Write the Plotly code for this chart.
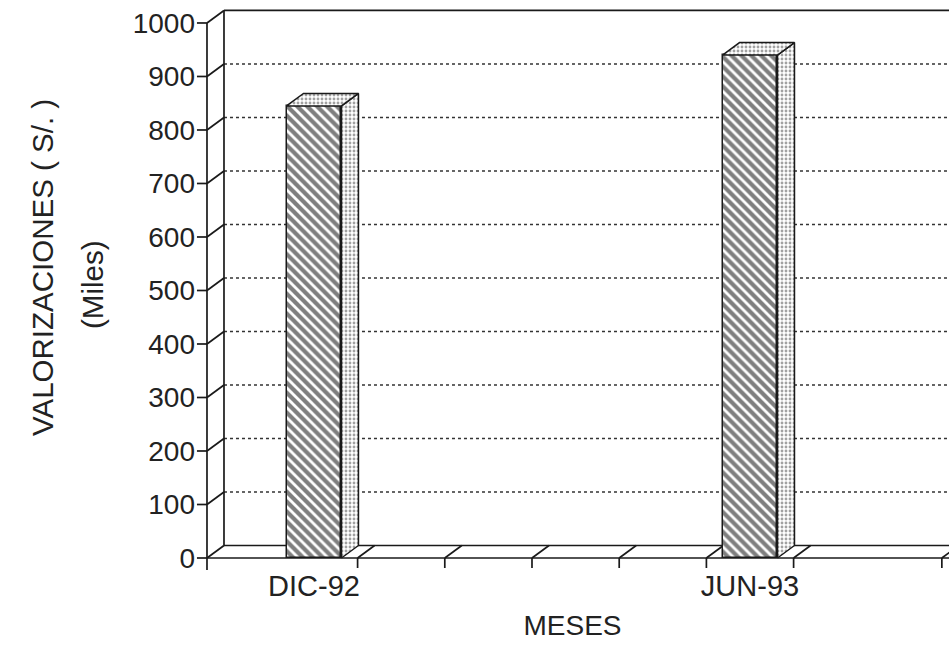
import plotly.graph_objects as go

# --- data ---------------------------------------------------------------
meses = ["DIC-92", "JUN-93"]
posiciones = [0, 5]            # category slot of each month
valores = [845, 940]           # valorizaciones, miles de S/.
y_ticks = list(range(0, 1001, 100))
limites = [0.5, 1.5, 2.5, 3.5, 4.5, 5.5, 7.2]   # floor divisions between slots

# --- geometry (data units) ----------------------------------------------
X_MIN, X_MAX = -1.353, 7.282
Y_MIN, Y_MAX = -24.3, 1033.6
X_EJE = -1.227          # front vertical axis
DX, DY = 0.195, 23.4    # depth offset of the back wall
ANCHO = 0.63            # bar width
TICK_X = 0.115          # length of y tick marks
TICK_Y = 18.7           # length of floor tick marks

NEGRO = "#1a1a1a"
LW = 1.7

fig = go.Figure()

# front faces of the bars: diagonal hatching
fig.add_trace(go.Bar(
    x=posiciones, y=valores, width=ANCHO,
    marker=dict(
        color="white",
        line=dict(color=NEGRO, width=1.5),
        pattern=dict(shape="\\", fgcolor="#000", bgcolor="white",
                     size=7, solidity=0.6),
    ),
    showlegend=False, hoverinfo="skip",
))

# top and side faces: stippled
punteado = dict(shape=".", fgcolor="#444", bgcolor="white", size=4, solidity=0.4)
for x, v in zip(posiciones, valores):
    x0, x1 = x - ANCHO / 2, x + ANCHO / 2
    # side face
    fig.add_trace(go.Scatter(
        x=[x1, x1 + DX, x1 + DX, x1, x1],
        y=[0, DY, v + DY, v, 0],
        mode="lines", fill="toself", fillcolor="white", fillpattern=punteado,
        line=dict(color=NEGRO, width=1.5), showlegend=False, hoverinfo="skip",
    ))
    # top face
    fig.add_trace(go.Scatter(
        x=[x0, x1, x1 + DX, x0 + DX, x0],
        y=[v, v, v + DY, v + DY, v],
        mode="lines", fill="toself", fillcolor="white", fillpattern=punteado,
        line=dict(color=NEGRO, width=1.5), showlegend=False, hoverinfo="skip",
    ))

shapes = []


def linea(x0, y0, x1, y1, dash="solid", width=LW, color=NEGRO):
    shapes.append(dict(type="line", xref="x", yref="y", x0=x0, y0=y0, x1=x1, y1=y1,
                       line=dict(color=color, width=width, dash=dash), layer="below"))


# dotted gridlines on the back wall
for v in y_ticks[1:-1]:
    linea(X_EJE + DX, v + DY, X_MAX, v + DY, dash="dot", width=1.4, color="#333")

# back wall edges
linea(X_EJE + DX, DY, X_EJE + DX, y_ticks[-1] + DY)
linea(X_EJE + DX, y_ticks[-1] + DY, X_MAX, y_ticks[-1] + DY)

# front axis with ticks and connectors to the wall
linea(X_EJE, -TICK_Y * 1.2, X_EJE, y_ticks[-1])
for v in y_ticks:
    linea(X_EJE - TICK_X, v, X_EJE, v)
    linea(X_EJE, v, X_EJE + DX, v + DY)

# floor
linea(X_EJE, 0, X_MAX, 0)
linea(X_EJE + DX, DY, X_MAX, DY)
for b in limites:
    linea(b, 0, b + DX, DY)
    linea(b, 0, b, -TICK_Y)

FUENTE = "Liberation Sans, Arial, sans-serif"

fig.update_layout(
    width=949, height=645,
    margin=dict(l=196, r=0, t=5, b=74),
    paper_bgcolor="white", plot_bgcolor="white",
    shapes=shapes,
    bargap=0,
    font=dict(family=FUENTE, color="#222", size=28),
    xaxis=dict(
        range=[X_MIN, X_MAX], showgrid=False, zeroline=False, showline=False,
        tickmode="array", tickvals=posiciones, ticktext=meses, ticks="",
        tickfont=dict(size=29), ticklabelstandoff=-5,
        title=dict(text="MESES", font=dict(size=28), standoff=14),
    ),
    yaxis=dict(
        range=[Y_MIN, Y_MAX], showgrid=False, zeroline=False, showline=False,
        tickmode="array", tickvals=y_ticks, ticks="",
        tickfont=dict(size=28),
    ),
    annotations=[
        dict(text="VALORIZACIONES ( S/. )", textangle=-90, showarrow=False,
             xref="paper", yref="paper", x=(42 - 196) / 753, y=(571 - 268) / 566,
             xanchor="center", yanchor="middle", font=dict(size=29.5)),
        dict(text="(Miles)", textangle=-90, showarrow=False,
             xref="paper", yref="paper", x=(92 - 196) / 753, y=(571 - 285) / 566,
             xanchor="center", yanchor="middle", font=dict(size=29.5)),
    ],
)

fig.write_html("out.html")
